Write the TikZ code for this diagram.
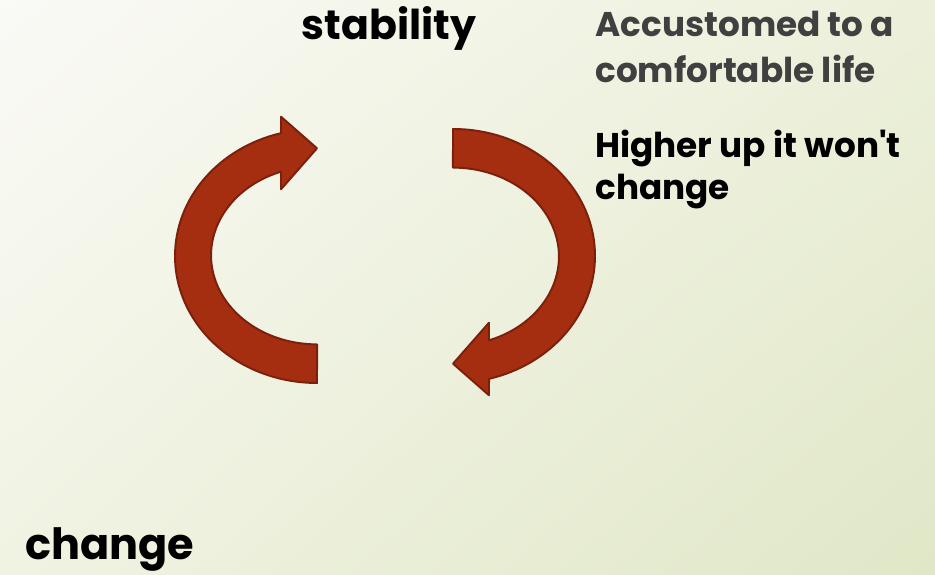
\documentclass[tikz,border=0pt]{standalone}
\usepackage{fontspec}
\setmainfont{Poppins}
\usetikzlibrary{shadings}
\definecolor{arrowfill}{RGB}{165,45,16}
\definecolor{arrowline}{RGB}{122,32,12}
\definecolor{greytext}{RGB}{64,64,64}
\definecolor{bgul}{RGB}{250,250,246}
\definecolor{bgur}{RGB}{236,240,218}
\definecolor{bgll}{RGB}{240,243,226}
\definecolor{bglr}{RGB}{224,231,199}

\begin{document}
\begin{tikzpicture}[
		x=0.02cm, y=0.02cm,
		every node/.style={inner sep=0pt, font=\bfseries},
		cyclearrow/.style={fill=arrowfill, draw=arrowline, line width=1.1pt, line join=round}
	]
  \shade[upper left=bgul, upper right=bgur, lower left=bgll, lower right=bglr] (0,0) rectangle (935,574);
  \useasboundingbox (0,0) rectangle (935,574);
  % left arrow, head at the top
  \draw[cyclearrow] (317,191) arc[start angle=270, end angle=104.7, x radius=142, y radius=127]
    -- (281,457.3) -- (317,425.7) -- (281,384.7) -- (281,402.3)
    arc[start angle=109.9, end angle=270, x radius=106, y radius=89] -- cycle;
  % right arrow, head at the bottom
  \draw[cyclearrow] (453,445) arc[start angle=90, end angle=-75.3, x radius=142, y radius=127]
    -- (489,178.7) -- (453,210.3) -- (489,251.3) -- (489,233.7)
    arc[start angle=-70.1, end angle=90, x radius=106, y radius=89] -- cycle;
  \node (stability) [anchor=base, font=\bfseries\fontsize{23.4}{28}\selectfont] at (389, 534) {stability};
  % multi-line nodes sit on the baseline of their last line
  \node (comfort) [anchor=base west, align=left, text=greytext, font=\bfseries\fontsize{19.5}{26.6}\selectfont] at (595, 491) {Accustomed to a\\comfortable life};
  \node (higher) [anchor=base west, align=left, font=\bfseries\fontsize{19.5}{24.4}\selectfont] at (595, 374) {Higher up it won\textquotesingle t\\change};
  \node (change) [anchor=base west, font=\bfseries\fontsize{24.5}{30}\selectfont] at (25, 15) {change};
\end{tikzpicture}
\end{document}
